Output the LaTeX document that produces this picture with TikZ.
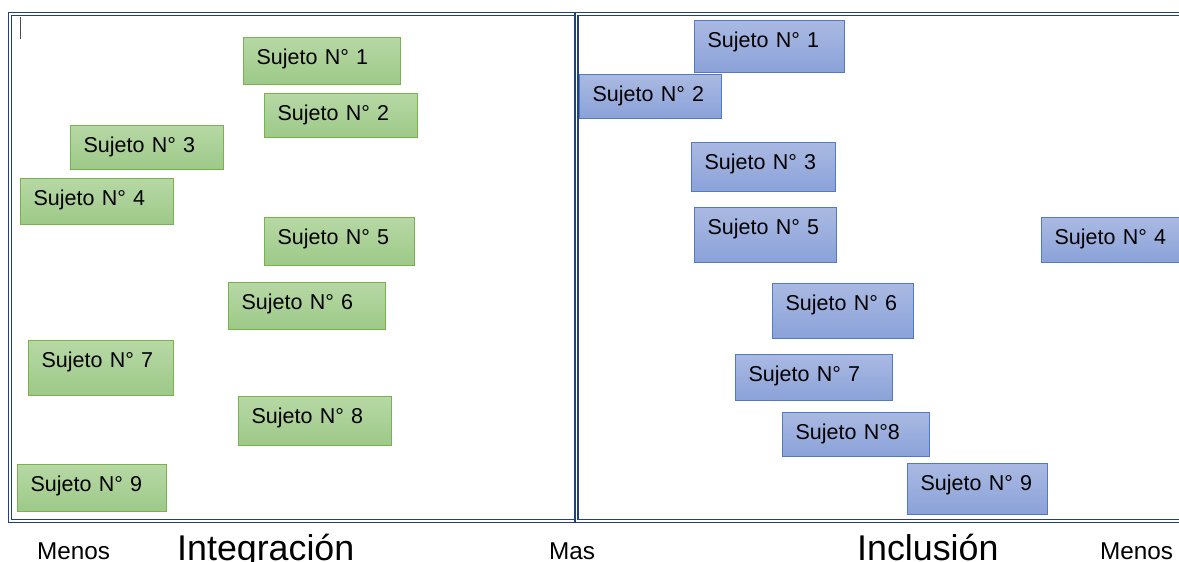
\documentclass[tikz,border=0pt]{standalone}
\usepackage{fontspec}
\setmainfont{Liberation Sans}
\definecolor{marco}{HTML}{22407F}
\definecolor{verdeborde}{HTML}{78B24F}
\definecolor{verdearriba}{HTML}{B7D8A5}
\definecolor{verdeabajo}{HTML}{9DC988}
\definecolor{azulborde}{HTML}{5179C6}
\definecolor{azularriba}{HTML}{AAB9E2}
\definecolor{azulabajo}{HTML}{8AA2D9}
\tikzset{
    caja/.style={anchor=north west, align=left, inner xsep=13pt, inner ysep=0pt,
        text height=27.3pt, line width=1.3pt,
        font=\fontsize{21.5}{24}\selectfont},
    verde/.style={caja, draw=verdeborde, top color=verdearriba, bottom color=verdeabajo},
    azul/.style={caja, draw=azulborde, top color=azularriba, bottom color=azulabajo},
    eje/.style={anchor=base west, inner sep=0pt, font=\fontsize{24.3}{28}\selectfont},
    titulo/.style={anchor=base west, inner sep=0pt, font=\fontsize{35.8}{40}\selectfont}
}
\begin{document}
\begin{tikzpicture}[x=1pt, y=-1pt]
    \useasboundingbox (0,0) rectangle (1179,562);
    \clip (0,0) rectangle (1179,562);

    % Marcos
    \draw[marco, line width=1.7pt, double=white, double distance=1.3pt] (10,14) rectangle (576.5,521);
    \draw[marco, line width=1.7pt, double=white, double distance=1.3pt] (576.5,14) rectangle (1200,521);
    \draw[black!70, line width=1pt] (20,17) -- (20,39);

    % Integración
    \node[verde, text width=131pt, text depth=19.7pt] (i1) at (243,37) {Sujeto N° 1};
    \node[verde, text width=127pt, text depth=16.7pt] (i2) at (264,93) {Sujeto N° 2};
    \node[verde, text width=127pt, text depth=16.7pt] (i3) at (70,125) {Sujeto N° 3};
    \node[verde, text width=127pt, text depth=18.7pt] (i4) at (20,178) {Sujeto N° 4};
    \node[verde, text width=124pt, text depth=20.7pt] (i5) at (264,217) {Sujeto N° 5};
    \node[verde, text width=131pt, text depth=19.7pt] (i6) at (228,282) {Sujeto N° 6};
    \node[verde, text width=119pt, text depth=27.7pt] (i7) at (28,340) {Sujeto N° 7};
    \node[verde, text width=127pt, text depth=21.7pt] (i8) at (238,396) {Sujeto N° 8};
    \node[verde, text width=123pt, text depth=19.7pt] (i9) at (17,464) {Sujeto N° 9};

    % Inclusión
    \node[azul, text width=124pt, text depth=24.7pt] (c1) at (694,20) {Sujeto N° 1};
    \node[azul, text width=116pt, text depth=16.7pt] (c2) at (579,74) {Sujeto N° 2};
    \node[azul, text width=118pt, text depth=21.7pt] (c3) at (691,142) {Sujeto N° 3};
    \node[azul, text width=116pt, text depth=27.7pt] (c5) at (694,207) {Sujeto N° 5};
    \node[azul, text width=119pt, text depth=17.7pt] (c4) at (1041,217) {Sujeto N° 4};
    \node[azul, text width=115pt, text depth=27.7pt] (c6) at (772,283) {Sujeto N° 6};
    \node[azul, text width=131pt, text depth=18.7pt] (c7) at (735,354) {Sujeto N° 7};
    \node[azul, text width=121pt, text depth=16.7pt] (c8) at (782,412) {Sujeto N°8};
    \node[azul, text width=114pt, text depth=23.7pt] (c9) at (907,463) {Sujeto N° 9};

    % Ejes
    \node[eje] (menos1) at (37,559) {Menos};
    \node[titulo] (integ) at (177,560) {Integración};
    \node[eje] (mas) at (549,559) {Mas};
    \node[titulo] (incl) at (857,560) {Inclusión};
    \node[eje] (menos2) at (1100,559) {Menos};
\end{tikzpicture}
\end{document}
